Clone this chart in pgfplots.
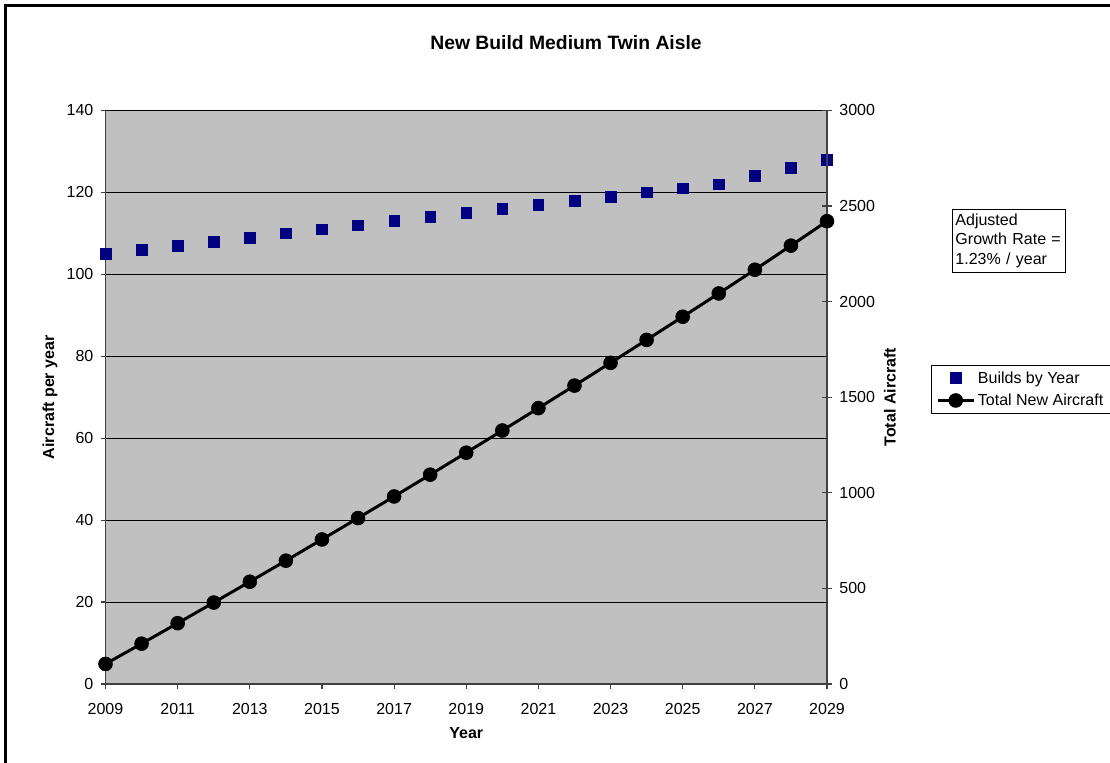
\documentclass[border=0pt]{standalone}
\usepackage{fontspec}
\setmainfont{Liberation Sans}
\usepackage{pgfplots}
\usepackage{pgfplotstable}
\pgfplotsset{compat=1.18}

\definecolor{plotgray}{RGB}{192,192,192}
\definecolor{buildnavy}{RGB}{0,0,128}
\definecolor{axisdark}{RGB}{64,64,64}

% yearly builds and the running total of new aircraft
\pgfplotstableread{
year builds total
2009 105 105
2010 106 211
2011 107 318
2012 108 426
2013 109 535
2014 110 645
2015 111 756
2016 112 868
2017 113 981
2018 114 1095
2019 115 1210
2020 116 1326
2021 117 1443
2022 118 1561
2023 119 1680
2024 120 1800
2025 121 1921
2026 122 2043
2027 124 2167
2028 126 2293
2029 128 2421
}\builddata

\tikzset{chartfont/.style={font=\fontsize{12}{14.4}\selectfont}}

\pgfplotsset{
  base/.style={
    at={(79.125pt,59.25pt)}, anchor=south west,
    scale only axis, width=541.125pt, height=430.125pt,
    xmin=2009, xmax=2029,
    clip=false,
    font=\fontsize{12}{14.4}\selectfont,
    /pgf/number format/assume math mode=true,
    /pgf/number format/1000 sep={},
    axis line style={-, axisdark, line width=1.1pt},
    tick style={axisdark, line width=0.9pt},
    major tick length=3.4pt,
    label style={font=\bfseries\fontsize{12}{14.4}\selectfont},
  },
  mark legend/.style={legend image code/.code={%
    \draw[##1] plot coordinates {(13.5pt,0pt)};}},
  linemark legend/.style={legend image code/.code={%
    \draw[mark repeat=2,mark phase=2,##1]
      plot coordinates {(0pt,0pt) (13.5pt,0pt) (27pt,0pt)};}},
}

\begin{document}
\begin{tikzpicture}
\path[use as bounding box] (0,0) rectangle (832.5pt,572.25pt);
% outer chart frame
\draw[line width=2pt] (4.1pt,-5pt) -- (4.1pt,568pt) -- (840pt,568pt);

\node[font=\bfseries\fontsize{14.5}{17}\selectfont] at (424.5pt,540pt) {New Build Medium Twin Aisle};

\begin{axis}[
  base,
  ymin=0, ymax=140,
  xtick={2009,2011,...,2029},
  ytick={0,20,...,140},
  axis x line*=bottom, axis y line*=left,
  axis background/.style={fill=plotgray, draw=gray, line width=0.9pt},
  tick align=outside,
  ymajorgrids, major grid style={black, line width=0.75pt},
  xticklabel style={yshift=-7.9pt},
  yticklabel style={xshift=-2.2pt},
  xlabel={Year},
  ylabel={Aircraft per year},
  xlabel style={at={(axis description cs:0.5,-0.0854)}, anchor=center},
  ylabel style={at={(axis description cs:-0.0769,0.5)}, anchor=center},
]
\addplot[only marks, mark=square*, mark size=4pt, buildnavy,
  mark options={draw=buildnavy, fill=buildnavy}]
  table[x=year, y=builds] {\builddata};
\end{axis}

\begin{axis}[
  base,
  ymin=0, ymax=3000,
  ytick={0,500,...,3000},
  axis x line=none, axis y line*=right,
  tick align=center, major tick length=7.5pt,
  yticklabel style={xshift=2pt},
  ylabel={Total Aircraft},
  ylabel style={at={(axis description cs:1.0873,0.5)}, anchor=center},
  legend style={at={(axis description cs:1.1435,0.5562)}, anchor=north west,
    draw=black, line width=0.6pt, fill=white, chartfont,
    inner xsep=4pt, inner ysep=3pt, row sep=3.5pt,
    nodes={inner xsep=2pt, inner ysep=1.5pt}},
  legend cell align=left,
]
\addlegendimage{only marks, mark=square*, mark size=4pt, buildnavy,
  mark options={draw=buildnavy, fill=buildnavy}, mark legend}
\addlegendentry{Builds by Year}
\addplot[black, line width=2.25pt, mark=*, mark size=5.2pt,
  mark options={fill=black, line width=0.5pt}, linemark legend]
  table[x=year, y=total] {\builddata};
\addlegendentry{Total New Aircraft}
\end{axis}

\node[draw=black, line width=0.6pt, align=left, anchor=north west,
  chartfont, inner xsep=2.5pt, inner ysep=3.6pt, text width=80pt]
  at (713.8pt,415.5pt) {Adjusted\\Growth Rate =\\1.23\% / year};
\end{tikzpicture}
\end{document}
